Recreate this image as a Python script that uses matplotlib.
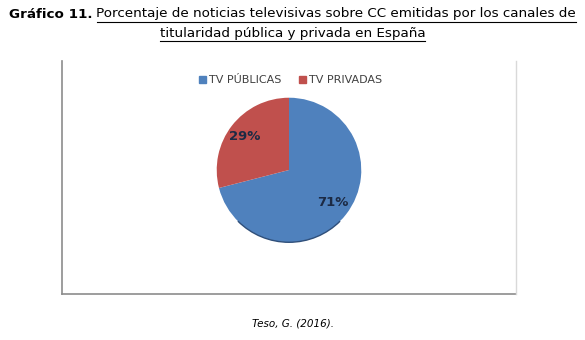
import matplotlib.pyplot as plt
from matplotlib.patches import Rectangle, Arc
from matplotlib.lines import Line2D

labels = ['TV PÚBLICAS', 'TV PRIVADAS']
values = [71, 29]
colors = ['#4F81BD', '#C0504D']

W, H = 585, 340
fig = plt.figure(figsize=(W / 100, H / 100), dpi=100)
fig.patch.set_facecolor('white')

def fx(px):
    return px / W

def fy(py):
    return 1 - py / H

# chart frame (left/bottom darker, like a shadow)
fig.add_artist(Line2D([fx(62), fx(62)], [fy(61), fy(294)], color='#8c8c8c', lw=1.2))
fig.add_artist(Line2D([fx(62), fx(516)], [fy(294), fy(294)], color='#8c8c8c', lw=1.2))
fig.add_artist(Line2D([fx(516), fx(516)], [fy(61), fy(294)], color='#d9d9d9', lw=1.0))

# pie
cx, cy, r = 289, 170, 73
ax = fig.add_axes([fx(cx - r), fy(cy + r), 2 * r / W, 2 * r / H])
wedges, _ = ax.pie(values, colors=colors, startangle=90, counterclock=False,
                   wedgeprops=dict(edgecolor='none'))
ax.set_aspect('auto')
ax.set_xlim(-1.01, 1.01)
ax.set_ylim(-1.01, 1.01)
# darker rim at bottom
ax.add_patch(Arc((0, 0), 2.0, 2.0, theta1=225, theta2=315, color='#2f4f7a', lw=1.0))

lab_pos = [(333, 202), (245, 137)]
for v, (px, py) in zip(values, lab_pos):
    fig.text(fx(px), fy(py), f'{v}%', ha='center', va='center', fontsize=9.5,
             fontweight='bold', color='#1c2a44')

# legend
leg_y = 80
items = [(203, labels[0], colors[0]), (303, labels[1], colors[1])]
for px, txt, c in items:
    fig.add_artist(Rectangle((fx(px - 4), fy(leg_y + 3)), 7 / W, 7 / H, color=c,
                             transform=fig.transFigure))
    fig.text(fx(px + 6), fy(leg_y), txt, ha='left', va='center', fontsize=8,
             color='#404040')

# title
fs = 9.7
t1 = fig.text(fx(9), fy(14), 'Gráfico 11.', fontsize=fs, fontweight='bold',
              ha='left', va='center', color='black')
fig.canvas.draw()
rend = fig.canvas.get_renderer()
bb = t1.get_window_extent(rend)
x0 = bb.x1 + 4
t2 = fig.text(x0 / W, fy(14), 'Porcentaje de noticias televisivas sobre CC emitidas por los canales de',
              fontsize=fs, ha='left', va='center', color='black')
t3 = fig.text(0.5, fy(33), 'titularidad pública y privada en España', fontsize=fs,
              ha='center', va='center', color='black')
fig.canvas.draw()
for t in (t2, t3):
    b = t.get_window_extent(rend)
    yl = b.y0 - 1
    fig.add_artist(Line2D([b.x0 / W, b.x1 / W], [yl / H, yl / H], color='black', lw=0.8))

fig.text(0.5, fy(323), 'Teso, G. (2016).', fontsize=7.5, style='italic', ha='center',
         va='center', color='black')

fig.savefig('out.png', dpi=100)
